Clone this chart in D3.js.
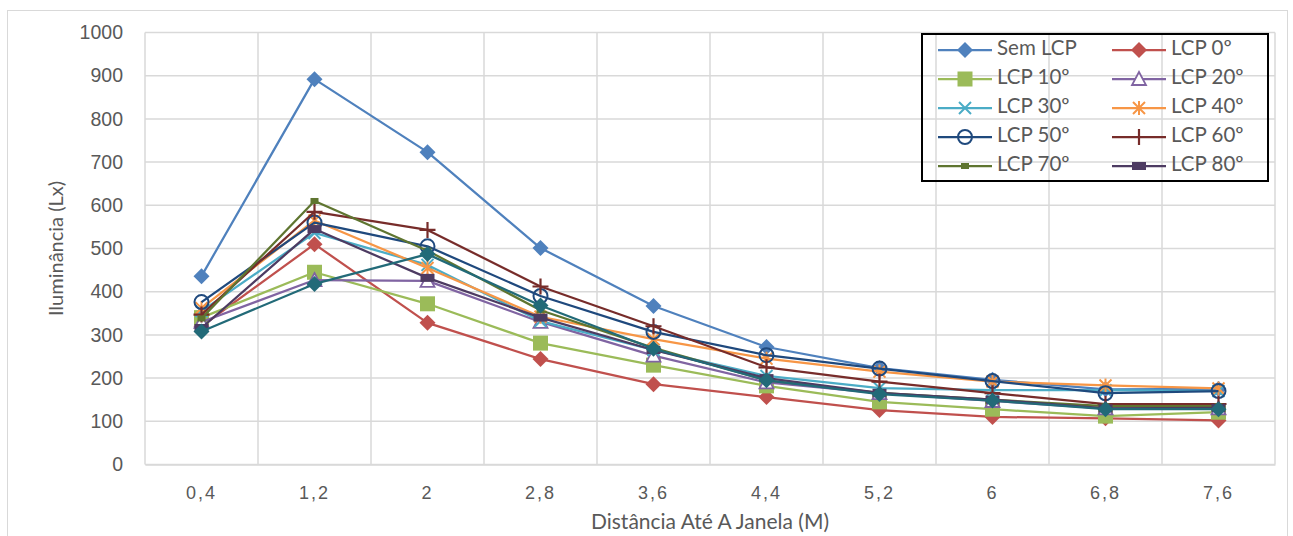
<!DOCTYPE html>
<html>
<head>
<meta charset="utf-8">
<script src="https://cdn.jsdelivr.net/npm/d3@7"></script>
<style>
  body { margin: 0; background: #fff; }
  svg { display: block; font-family: Lato, "Open Sans", sans-serif; }
</style>
</head>
<body>
<svg id="chart" width="1293" height="536"></svg>
<script>
const categories = ["0,4", "1,2", "2", "2,8", "3,6", "4,4", "5,2", "6", "6,8", "7,6"];
const yTicks = [0, 100, 200, 300, 400, 500, 600, 700, 800, 900, 1000];

const semLcp = [436, 892, 723, 501, 367, 272, 223, 196, 174, 175];
const lcp0   = [320, 510, 328, 244, 186, 156, 126, 110, 107, 102];
const lcp10  = [340, 445, 372, 281, 230, 182, 145, 128, 112, 121];
const lcp20  = [330, 427, 425, 330, 252, 190, 165, 147, 130, 130];
const lcp30  = [355, 536, 462, 332, 265, 205, 177, 172, 172, 170];
const lcp40  = [362, 565, 455, 342, 290, 245, 215, 192, 183, 176];
const lcp50  = [376, 560, 505, 390, 307, 253, 222, 193, 165, 170];
const lcp60  = [347, 585, 543, 412, 320, 225, 192, 165, 140, 140];
const lcp70  = [338, 610, 495, 357, 270, 195, 166, 150, 135, 135];
const lcp80  = [316, 545, 432, 340, 265, 200, 166, 150, 130, 131];
const lcp90  = [308, 418, 487, 368, 268, 195, 163, 148, 128, 128];

const seriesNames = ["Sem LCP", "LCP 0º", "LCP 10º", "LCP 20º", "LCP 30º", "LCP 40º",
  "LCP 50º", "LCP 60º", "LCP 70º", "LCP 80º", "LCP 90º"];
const seriesValues = [semLcp, lcp0, lcp10, lcp20, lcp30, lcp40, lcp50, lcp60, lcp70, lcp80, lcp90];
const seriesColors = ["#4F81BD", "#C0504D", "#9BBB59", "#8064A2", "#4BACC6", "#F79646",
  "#1F497D", "#772C2A", "#5F7530", "#4D3B62", "#226A78"];
const seriesMarkers = ["diamond", "diamond", "square", "triangle", "x", "star",
  "circle", "plus", "dash", "bar", "diamond"];

const svg = d3.select("#chart");
const margin = { left: 145, right: 18, top: 32.5, bottom: 71.5 };
const W = 1293, H = 536;

// outer chart border
svg.append("rect")
  .attr("x", 7.5).attr("y", 10.5)
  .attr("width", 1280).attr("height", 560)
  .attr("fill", "#fff").attr("stroke", "#D9D9D9").attr("stroke-width", 1);

const x = d3.scaleBand().domain(categories).range([margin.left, W - margin.right]);
const y = d3.scaleLinear().domain([0, 1000]).range([H - margin.bottom, margin.top]);

// gridlines
const grid = svg.append("g");
grid.selectAll("line.h").data(yTicks).enter().append("line")
  .attr("x1", margin.left).attr("x2", W - margin.right)
  .attr("y1", d => y(d)).attr("y2", d => y(d))
  .attr("stroke", "#D9D9D9").attr("stroke-width", 1.5);
const vEdges = categories.map(c => x(c) + x.bandwidth()).concat([x(categories[0])]);
grid.selectAll("line.v").data(vEdges).enter().append("line")
  .attr("x1", d => d).attr("x2", d => d)
  .attr("y1", y(0)).attr("y2", y(1000))
  .attr("stroke", "#D9D9D9").attr("stroke-width", 1.5);

// axes
const yAxis = svg.append("g")
  .attr("transform", `translate(${margin.left},0)`)
  .call(d3.axisLeft(y).tickValues(yTicks).tickFormat(d3.format("d")).tickSize(0).tickPadding(22));
yAxis.select(".domain").remove();
yAxis.selectAll("text").attr("fill", "#595959").style("font-size", "19.5px");

const xAxis = svg.append("g")
  .attr("transform", `translate(0,${y(0)})`)
  .call(d3.axisBottom(x).tickSize(0).tickPadding(22));
xAxis.select(".domain").attr("stroke", "#D9D9D9").attr("stroke-width", 1.5);
xAxis.selectAll("text").attr("fill", "#595959").style("font-size", "18px")
  .style("letter-spacing", "2px");

svg.append("text")
  .attr("transform", `translate(58,${(y(0) + y(1000)) / 2}) rotate(-90)`)
  .attr("text-anchor", "middle").attr("dominant-baseline", "middle")
  .attr("fill", "#595959").style("font-size", "20px")
  .text("Iluminância (Lx)");

svg.append("text")
  .attr("x", (margin.left + W - margin.right) / 2).attr("y", 529)
  .attr("text-anchor", "middle")
  .attr("fill", "#595959").style("font-size", "21px")
  .text("Distância Até A Janela (M)");

// markers
function drawMarker(g, type, color, cx, cy) {
  if (type === "diamond") {
    g.append("path").attr("d", `M${cx},${cy - 8}L${cx + 8},${cy}L${cx},${cy + 8}L${cx - 8},${cy}Z`)
      .attr("fill", color);
  } else if (type === "square") {
    g.append("rect").attr("x", cx - 7.5).attr("y", cy - 7.5).attr("width", 15).attr("height", 15)
      .attr("fill", color);
  } else if (type === "triangle") {
    g.append("path").attr("d", `M${cx},${cy - 7}L${cx + 7},${cy + 6}L${cx - 7},${cy + 6}Z`)
      .attr("fill", "#fff").attr("stroke", color).attr("stroke-width", 1.8);
  } else if (type === "x") {
    g.append("path").attr("d", `M${cx - 6},${cy - 6}L${cx + 6},${cy + 6}M${cx - 6},${cy + 6}L${cx + 6},${cy - 6}`)
      .attr("stroke", color).attr("stroke-width", 2);
  } else if (type === "star") {
    g.append("path").attr("d", `M${cx - 6},${cy - 6}L${cx + 6},${cy + 6}M${cx - 6},${cy + 6}L${cx + 6},${cy - 6}M${cx},${cy - 7}L${cx},${cy + 7}`)
      .attr("stroke", color).attr("stroke-width", 2);
  } else if (type === "circle") {
    g.append("circle").attr("cx", cx).attr("cy", cy).attr("r", 7)
      .attr("fill", "none").attr("stroke", color).attr("stroke-width", 2);
  } else if (type === "plus") {
    g.append("path").attr("d", `M${cx - 8},${cy}L${cx + 8},${cy}M${cx},${cy - 8}L${cx},${cy + 8}`)
      .attr("stroke", color).attr("stroke-width", 2.2);
  } else if (type === "dash") {
    g.append("rect").attr("x", cx - 4).attr("y", cy - 3).attr("width", 8).attr("height", 6)
      .attr("fill", color);
  } else if (type === "bar") {
    g.append("rect").attr("x", cx - 7).attr("y", cy - 4).attr("width", 14).attr("height", 8)
      .attr("fill", color);
  }
}

const line = d3.line()
  .x((d, i) => x(categories[i]) + x.bandwidth() / 2)
  .y(d => y(d));

const gSeries = svg.append("g");
seriesValues.forEach((vals, s) => {
  const g = gSeries.append("g");
  g.append("path").datum(vals)
    .attr("d", line)
    .attr("fill", "none")
    .attr("stroke", seriesColors[s])
    .attr("stroke-width", 2.25)
    .attr("stroke-linejoin", "round");
  vals.forEach((v, i) => {
    drawMarker(g, seriesMarkers[s], seriesColors[s], x(categories[i]) + x.bandwidth() / 2, y(v));
  });
});

// legend (first ten series)
const legend = svg.append("g");
legend.append("rect")
  .attr("x", 922).attr("y", 34).attr("width", 346).attr("height", 147)
  .attr("fill", "none").attr("stroke", "#000").attr("stroke-width", 2);
seriesNames.slice(0, 10).forEach((name, s) => {
  const col = s % 2, row = Math.floor(s / 2);
  const lx = col === 0 ? 938 : 1112;
  const ly = 50 + row * 29;
  const g = legend.append("g");
  g.append("line").attr("x1", lx).attr("x2", lx + 54).attr("y1", ly).attr("y2", ly)
    .attr("stroke", seriesColors[s]).attr("stroke-width", 2.25);
  drawMarker(g, seriesMarkers[s], seriesColors[s], lx + 27, ly);
  g.append("text").attr("x", lx + 59).attr("y", ly).attr("dominant-baseline", "middle")
    .attr("fill", "#595959").style("font-size", "20.5px").text(name);
});
</script>
</body>
</html>
